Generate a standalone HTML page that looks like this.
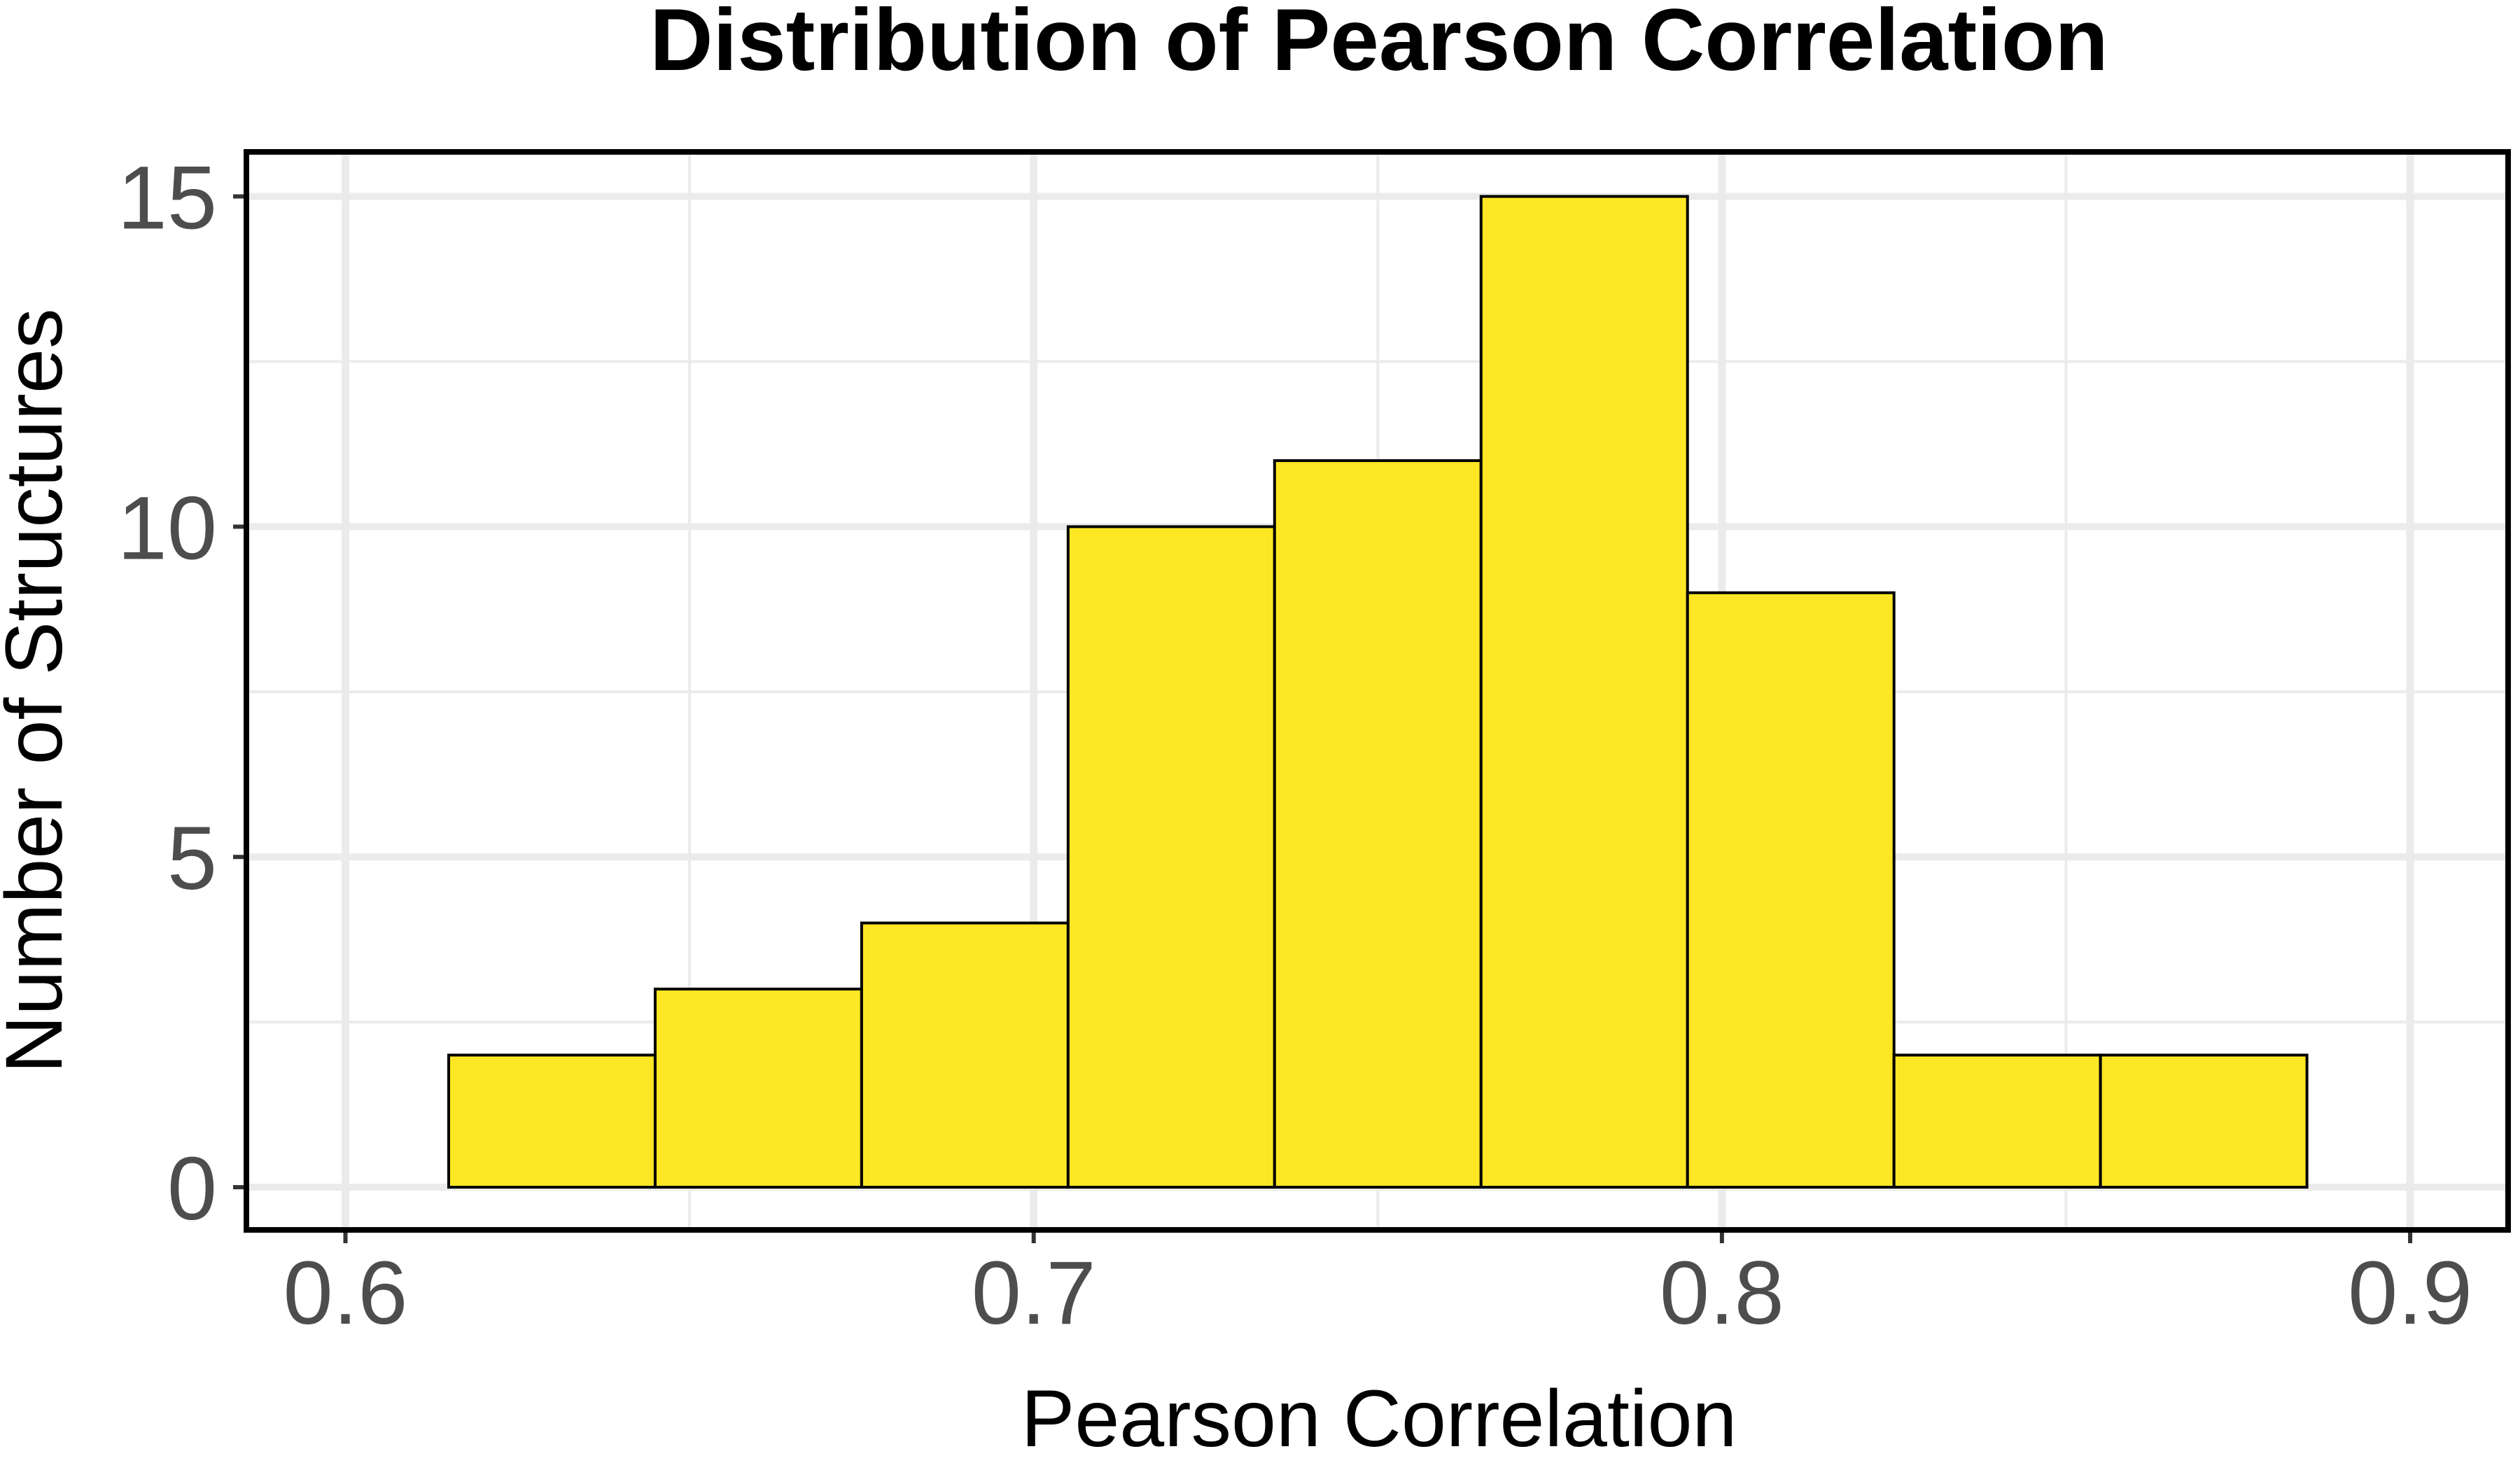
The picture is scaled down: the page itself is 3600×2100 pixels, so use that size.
<!DOCTYPE html>
<html><head><meta charset="utf-8"><style>
html,body{margin:0;padding:0;background:#fff}
svg{display:block}
text{font-family:"Liberation Sans",Arial,sans-serif}
</style></head><body>
<svg id="chart" width="3600" height="2100" viewBox="0 0 3600 2100" xmlns="http://www.w3.org/2000/svg">
<rect width="3600" height="2100" fill="#fff"/>
<g id="grid"></g>
<g id="bars"></g>
<rect x="352" y="217" width="3231" height="1540" fill="none" stroke="#000" stroke-width="8"/>
<g id="axes"></g>
<text x="1970" y="100" text-anchor="middle" font-size="125" font-weight="bold" fill="#000">Distribution of Pearson Correlation</text>
<text x="1970" y="2066" text-anchor="middle" font-size="115" fill="#000">Pearson Correlation</text>
<text transform="translate(88,987) rotate(-90)" text-anchor="middle" font-size="115" fill="#000">Number of Structures</text>
</svg>
<script>
const binStarts = [0.615,0.645,0.675,0.705,0.735,0.765,0.795,0.825,0.855];
const binWidth = 0.03;
const counts = [2,3,4,10,11,15,9,2,2];
const xTicks = [0.6,0.7,0.8,0.9];
const xTickLabels = ["0.6","0.7","0.8","0.9"];
const xMinor = [0.65,0.75,0.85];
const yTicks = [0,5,10,15];
const yTickLabels = ["0","5","10","15"];
const yMinor = [2.5,7.5,12.5];

const NS="http://www.w3.org/2000/svg";
const X = v => 493.5 + (v-0.6)*9832;
const Y = v => 1696 - v*94.36;
const L=352, R=3583, T=217, B=1757;
function mk(tag, attrs, parent){const e=document.createElementNS(NS,tag);for(const k in attrs)e.setAttribute(k,attrs[k]);parent.appendChild(e);return e;}
const grid=document.getElementById('grid'), bars=document.getElementById('bars'), axes=document.getElementById('axes');
yMinor.forEach(v=>{const e=mk('line',{x1:L,x2:R,y1:Y(v),y2:Y(v),stroke:'#ebebeb','stroke-width':4},grid);

});
xMinor.forEach(v=>{const e=mk('line',{x1:X(v),x2:X(v),y1:T,y2:B,stroke:'#ebebeb','stroke-width':4},grid);

});
yTicks.forEach(v=>{const e=mk('line',{x1:L,x2:R,y1:Y(v),y2:Y(v),stroke:'#ebebeb','stroke-width':10},grid);

});
xTicks.forEach(v=>{const e=mk('line',{x1:X(v),x2:X(v),y1:T,y2:B,stroke:'#ebebeb','stroke-width':11},grid);

});
counts.forEach((c,i)=>{const x0=X(binStarts[i]),x1=X(binStarts[i]+binWidth);
const e=mk('rect',{x:x0,y:Y(c),width:x1-x0,height:Y(0)-Y(c),fill:'#FDE725',stroke:'#000','stroke-width':4},bars);

});
yTicks.forEach((v,i)=>{const t=mk('line',{x1:L-4-15,x2:L-4,y1:Y(v),y2:Y(v),stroke:'#333','stroke-width':6},axes);


const l=mk('text',{x:310,y:Y(v)+46,'text-anchor':'end','font-size':128,fill:'#4d4d4d'},axes);l.textContent=yTickLabels[i];

});
xTicks.forEach((v,i)=>{const t=mk('line',{x1:X(v),x2:X(v),y1:B+4,y2:B+19,stroke:'#333','stroke-width':6},axes);


const l=mk('text',{x:X(v),y:1891,'text-anchor':'middle','font-size':128,fill:'#4d4d4d'},axes);l.textContent=xTickLabels[i];

});
</script>
</body></html>
